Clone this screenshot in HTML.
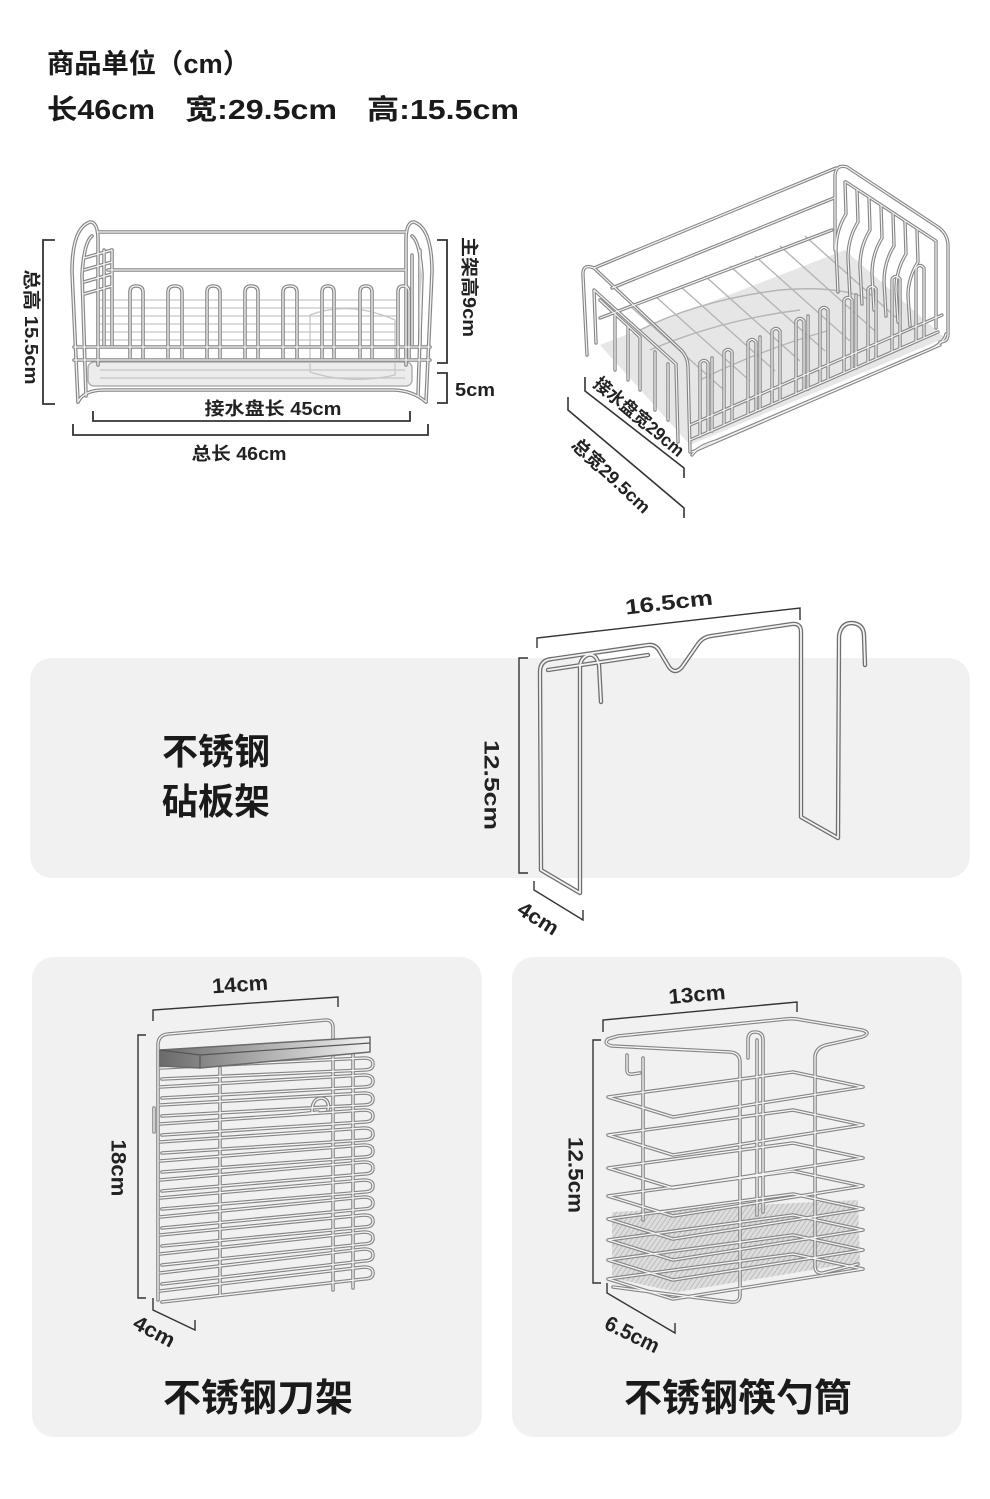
<!DOCTYPE html>
<html><head><meta charset="utf-8">
<style>
html,body{margin:0;padding:0;background:#fff;}
svg{display:block;}
text{font-family:"Liberation Sans","Noto Sans CJK SC",sans-serif;fill:#1a1a1a;}
.d{font-size:18px;fill:#222;font-weight:700;}
.d2{font-size:21px;fill:#222;font-weight:700;}
</style></head>
<body>
<svg width="990" height="1499" viewBox="0 0 990 1499" xmlns="http://www.w3.org/2000/svg">
<defs>
<linearGradient id="bar" x1="0" y1="0" x2="1" y2="0">
<stop offset="0" stop-color="#6a6a6a"/><stop offset="0.45" stop-color="#a8a8a8"/><stop offset="1" stop-color="#f2f2f2"/>
</linearGradient>
<pattern id="mesh" width="4" height="4" patternUnits="userSpaceOnUse" patternTransform="rotate(35)">
<rect width="4" height="4" fill="#d6d6d6"/><line x1="0" y1="0" x2="0" y2="4" stroke="#9a9a9a" stroke-width="1.4"/>
</pattern>

<g id="r1" fill="none">
<path d="M78,402 L72,272 Q72,228 90,222 Q98,222 98,240 L98,365"/>
<path d="M86,396 L82,275 Q84,242 92,236"/>
<path d="M426,402 L432,272 Q432,228 414,222 Q406,222 406,240 L406,365"/>
<path d="M418,396 L422,275 Q420,242 412,236"/>
<path d="M98,232 L406,232"/>
<path d="M108,270 L406,270"/>
<path d="M74,347 L430,347"/>
<path d="M74,360 L430,360"/>
<path d="M130,358 L130,292 Q130,286 136,286 Q143,286 143,292 L143,358"/>
<path d="M168,358 L168,292 Q168,286 175,286 Q182,286 182,292 L182,358"/>
<path d="M207,358 L207,292 Q207,286 213,286 Q220,286 220,292 L220,358"/>
<path d="M245,358 L245,292 Q245,286 251,286 Q258,286 258,292 L258,358"/>
<path d="M283,358 L283,292 Q283,286 290,286 Q297,286 297,292 L297,358"/>
<path d="M322,358 L322,292 Q322,286 328,286 Q334,286 334,292 L334,358"/>
<path d="M360,358 L360,292 Q360,286 366,286 Q372,286 372,292 L372,358"/>
<path d="M398,358 L398,292 Q398,286 403,286 Q409,286 409,292 L409,358"/>
<path d="M84,258 L112,250 M84,270 L112,262 M84,282 L112,274 M84,294 L112,286 M104,250 L104,345 M112,250 L112,345"/>
<path d="M412,255 L412,345 M420,250 L420,345"/>
<path d="M78,402 Q84,390 104,390 L392,390 Q412,390 426,402"/>
</g>

<g id="r2" fill="none">
<path d="M587,355 L583,276 Q582,263 594,268 L681,350 Q688,357 688,368 L690,452"/>
<path d="M596,343 L594,290 L676,364 L678,442"/>
<path d="M594,268 L836,168"/>
<path d="M612,288 L834,198"/>
<path d="M600,318 L832,230"/>
<path d="M835,250 L835,175 Q836,164 847,167 L938,227 Q948,234 948,246 L948,334 Q948,342 940,342"/>
<path d="M846,182 L936,241 L936,328"/>
<path d="M690,425 L942,315"/>
<path d="M690,440 L938,332"/>
<path d="M692,452 L940,345"/>
<path d="M700,436 L700,363 Q704,358 708,363 L708,432"/>
<path d="M712,431 L712,358"/>
<path d="M724,425 L724,352 Q728,347 732,352 L732,421"/>
<path d="M748,415 L748,342 Q752,337 756,342 L756,411"/>
<path d="M760,410 L760,337"/>
<path d="M772,404 L772,331 Q776,326 780,331 L780,400"/>
<path d="M796,394 L796,321 Q800,316 804,321 L804,390"/>
<path d="M808,389 L808,316"/>
<path d="M820,383 L820,310 Q824,305 828,310 L828,379"/>
<path d="M844,373 L844,300 Q848,295 852,300 L852,369"/>
<path d="M856,368 L856,295"/>
<path d="M868,362 L868,289 Q872,284 876,289 L876,358"/>
<path d="M892,352 L892,279 Q896,274 900,279 L900,348"/>
<path d="M916,341 L916,268 Q920,263 924,268 L924,337"/>
<path d="M845,182 L846,214 Q836,230 836,250 L838,292"/>
<path d="M857,190 L858,222 Q848,238 848,258 L850,298"/>
<path d="M869,198 L870,230 Q860,246 860,266 L862,304"/>
<path d="M881,206 L882,238 Q872,254 872,274 L874,310"/>
<path d="M893,214 L894,246 Q884,262 884,282 L886,316"/>
<path d="M905,222 L906,254 Q896,270 896,290 L898,322"/>
<path d="M917,230 L918,262 Q908,278 908,296 L910,326"/>
<path d="M600,300 L640,337 L640,390 M615,314 L615,370 M628,326 L628,380 M655,352 L655,410 M668,364 L668,420"/>
<path d="M692,455 Q698,446 716,441 L926,351 Q944,344 946,334"/>
</g>

<g id="r3" fill="none">
<path d="M601,702 L599,665 Q596,653 588,655 Q580,658 580,668 L580,893 L541,870 L540,672 Q540,660 552,659 L648,645 Q656,644 660,652 L669,667 Q675,675 682,667 L698,644 Q703,637 711,636 L792,624 Q801,623 801,632 L801,817 L838,838 L839,636 Q841,623 852,623 Q864,624 864,636 L865,665"/>
<path d="M548,670 L648,655"/>
</g>

<g id="r4" fill="none">
<path d="M158,1300 L158,1045 Q158,1035 168,1034 L326,1020 Q333,1020 333,1028 L333,1040"/>
<path d="M220,1068 L220,1295"/>
<path d="M333,1045 L333,1290"/>
<path d="M353,1042 L353,1288"/>
<path d="M160,1068 L364,1058 Q373,1058 373,1064 Q373,1070 364,1070 L162,1079"/>
<path d="M160,1087 L364,1075 Q373,1075 373,1081 Q373,1087 364,1087 L162,1098"/>
<path d="M160,1105 L364,1093 Q373,1093 373,1099 Q373,1105 364,1105 L162,1116"/>
<path d="M160,1124 L364,1110 Q373,1110 373,1116 Q373,1122 364,1122 L162,1135"/>
<path d="M160,1142 L364,1128 Q373,1128 373,1134 Q373,1140 364,1140 L162,1153"/>
<path d="M160,1161 L364,1145 Q373,1145 373,1151 Q373,1157 364,1157 L162,1172"/>
<path d="M160,1180 L364,1162 Q373,1162 373,1168 Q373,1174 364,1174 L162,1191"/>
<path d="M160,1198 L364,1180 Q373,1180 373,1186 Q373,1192 364,1192 L162,1209"/>
<path d="M160,1217 L364,1197 Q373,1197 373,1203 Q373,1209 364,1209 L162,1228"/>
<path d="M160,1235 L364,1215 Q373,1215 373,1221 Q373,1227 364,1227 L162,1246"/>
<path d="M160,1254 L364,1232 Q373,1232 373,1238 Q373,1244 364,1244 L162,1265"/>
<path d="M160,1273 L364,1249 Q373,1249 373,1255 Q373,1261 364,1261 L162,1284"/>
<path d="M160,1291 L364,1267 Q373,1267 373,1273 Q373,1279 364,1279 L162,1302"/>
<path d="M312,1112 Q312,1098 322,1098 Q330,1100 328,1110 M290,1115 L318,1112"/>
<path d="M154,1108 L154,1132"/>
</g>

<g id="r5" fill="none">
<path d="M643,1058 L643,1220"/>
<path d="M757,1040 L757,1215"/>
<path d="M763,1040 L763,1212"/>
<path d="M748,1058 L748,1040 Q748,1032 755,1032 Q763,1032 763,1040"/>
<path d="M627,1055 L627,1070 Q627,1075 633,1074 L640,1073"/>
<path d="M608,1097 L793,1072 L863,1087 L673,1117 Z"/>
<path d="M608,1135 L793,1110 L863,1125 L673,1155 Z"/>
<path d="M608,1168 L793,1143 L863,1158 L673,1188 Z"/>
<path d="M608,1196 L793,1171 L863,1186 L673,1216 Z"/>
<path d="M608,1219 L793,1194 L863,1209 L673,1239 Z"/>
<path d="M608,1240 L793,1215 L863,1230 L673,1260 Z"/>
<path d="M608,1260 L793,1235 L863,1250 L673,1280 Z"/>
<path d="M608,1279 L793,1254 L863,1269 L673,1299 Z"/>
<path d="M740,1295 L740,1062 Q740,1053 730,1052 L612,1046 Q603,1044 608,1039 L618,1036 L786,1019 Q795,1018 802,1020 L862,1030 Q872,1033 862,1037 L826,1045 Q815,1048 815,1058 L815,1266 Q815,1274 823,1273 L858,1264"/>
<path d="M740,1295 Q740,1303 731,1302 L613,1287"/>
</g>
</defs>

<rect width="990" height="1499" fill="#fff"/>

<text x="47" y="73" font-size="27" font-weight="700" textLength="203" lengthAdjust="spacingAndGlyphs">商品单位（cm）</text>
<text x="47" y="119" font-size="28" font-weight="700" textLength="108" lengthAdjust="spacingAndGlyphs">长46cm</text>
<text x="185" y="119" font-size="28" font-weight="700" textLength="152" lengthAdjust="spacingAndGlyphs">宽:29.5cm</text>
<text x="367" y="119" font-size="28" font-weight="700" textLength="152" lengthAdjust="spacingAndGlyphs">高:15.5cm</text>

<rect x="30" y="658" width="940" height="220" rx="22" fill="#f1f1f1"/>
<rect x="32" y="957" width="450" height="480" rx="22" fill="#f1f1f1"/>
<rect x="512" y="957" width="450" height="480" rx="22" fill="#f1f1f1"/>

<rect x="88" y="362" width="324" height="24" rx="6" fill="#ececec" stroke="#b0b0b0" stroke-width="1.5"/>
<g stroke="#c6c6c6" stroke-width="1.3" fill="none">
<path d="M100,300 L400,300 M100,308 L400,308 M100,316 L400,316 M100,324 L400,324 M100,332 L400,332 M100,340 L400,340"/>
<path d="M100,370 L405,370 M100,378 L405,378"/>
<path d="M310,315 Q350,300 395,320 L395,375 Q350,385 310,372 Z"/>
</g>
<use href="#r1" stroke="#858585" stroke-width="3.6" stroke-linecap="round" stroke-linejoin="round"/>
<use href="#r1" stroke="#f4f4f4" stroke-width="1.3" stroke-linecap="round" stroke-linejoin="round"/>

<g stroke="#333" stroke-width="1.8" fill="none">
<path d="M55,240 H43 V404 H55"/>
<path d="M437,240 H447 V363 H437"/>
<path d="M437,373 H447 V403 H437"/>
<path d="M93,411 V421 H410 V411"/>
<path d="M73,424 V435 H428 V424"/>
</g>
<text class="d" transform="translate(31,327) rotate(90)" text-anchor="middle" dominant-baseline="central" textLength="115" lengthAdjust="spacingAndGlyphs">总高 15.5cm</text>
<text class="d" transform="translate(469,287) rotate(90)" text-anchor="middle" dominant-baseline="central" textLength="100" lengthAdjust="spacingAndGlyphs">主架高9cm</text>
<text class="d" x="455" y="396" textLength="40" lengthAdjust="spacingAndGlyphs">5cm</text>
<text class="d" x="273" y="415" text-anchor="middle" textLength="137" lengthAdjust="spacingAndGlyphs">接水盘长 45cm</text>
<text class="d" x="239" y="460" text-anchor="middle" textLength="95" lengthAdjust="spacingAndGlyphs">总长 46cm</text>

<polygon points="600,345 690,445 945,338 845,250" fill="#e2e2e2" opacity="0.85"/>
<g stroke="#b5b5b5" stroke-width="1.4" fill="none">
<path d="M630,306 L725,391 M655,296 L750,381 M680,286 L775,371 M705,276 L800,361 M730,266 L825,351 M755,256 L850,341 M780,246 L875,331 M805,236 L900,321"/>
<path d="M640,330 Q700,300 780,290 Q840,285 870,300 M650,350 Q720,320 800,310 M700,380 Q760,350 830,330"/>
</g>
<use href="#r2" stroke="#858585" stroke-width="3.4" stroke-linecap="round" stroke-linejoin="round"/>
<use href="#r2" stroke="#f4f4f4" stroke-width="1.2" stroke-linecap="round" stroke-linejoin="round"/>
<g stroke="#333" stroke-width="1.6" fill="none">
<path d="M585,377 V391 L684,468 V478"/>
<path d="M568,397 V410 L684,508 V518"/>
</g>
<text class="d" transform="translate(639,417) rotate(40)" text-anchor="middle" dominant-baseline="central" textLength="112" lengthAdjust="spacingAndGlyphs">接水盘宽29cm</text>
<text class="d" transform="translate(611,476) rotate(43)" text-anchor="middle" dominant-baseline="central" textLength="100" lengthAdjust="spacingAndGlyphs">总宽29.5cm</text>

<text x="162" y="764" font-size="36" font-weight="700">不锈钢</text>
<text x="162" y="814" font-size="36" font-weight="700">砧板架</text>
<use href="#r3" stroke="#6f6f6f" stroke-width="4.4" stroke-linecap="round" stroke-linejoin="round"/>
<use href="#r3" stroke="#f4f4f4" stroke-width="1.8" stroke-linecap="round" stroke-linejoin="round"/>
<g stroke="#333" stroke-width="1.4" fill="none">
<path d="M537,648 V638 L800,608 V620"/>
<path d="M528,658 H519 V873 H528"/>
<path d="M534,881 V890 L583,920 V910"/>
</g>
<text class="d2" transform="translate(669,603) rotate(-6.5)" text-anchor="middle" dominant-baseline="central" textLength="88" lengthAdjust="spacingAndGlyphs">16.5cm</text>
<text class="d2" transform="translate(491,785) rotate(90)" text-anchor="middle" dominant-baseline="central" textLength="90" lengthAdjust="spacingAndGlyphs">12.5cm</text>
<text class="d2" transform="translate(538,919) rotate(32)" text-anchor="middle" dominant-baseline="central" textLength="44" lengthAdjust="spacingAndGlyphs">4cm</text>

<use href="#r4" stroke="#858585" stroke-width="3.6" stroke-linecap="round" stroke-linejoin="round"/>
<use href="#r4" stroke="#f6f6f6" stroke-width="1.3" stroke-linecap="round" stroke-linejoin="round"/>
<polygon points="160,1050 370,1037 370,1052 200,1068 160,1066" fill="url(#bar)" stroke="#6a6a6a" stroke-width="1.5" stroke-linejoin="round"/>
<path d="M160,1050 L200,1055 L370,1043" stroke="#555" stroke-width="1.2" fill="none"/>
<path d="M200,1055 L200,1068" stroke="#555" stroke-width="1.2"/>
<g stroke="#333" stroke-width="1.4" fill="none">
<path d="M153,1021 V1010 L338,997 V1007"/>
<path d="M146,1035 H138 V1298 H146"/>
<path d="M153,1298 V1310 L195,1330 V1320"/>
</g>
<text class="d2" transform="translate(240,985) rotate(-4)" text-anchor="middle" dominant-baseline="central" textLength="56" lengthAdjust="spacingAndGlyphs">14cm</text>
<text class="d2" transform="translate(118,1168) rotate(90)" text-anchor="middle" dominant-baseline="central" textLength="57" lengthAdjust="spacingAndGlyphs">18cm</text>
<text class="d2" transform="translate(154,1332) rotate(28)" text-anchor="middle" dominant-baseline="central" textLength="44" lengthAdjust="spacingAndGlyphs">4cm</text>
<text x="258" y="1411" font-size="38" font-weight="700" text-anchor="middle">不锈钢刀架</text>

<polygon points="612,1212 858,1200 860,1262 677,1292 612,1278" fill="url(#mesh)" opacity="0.75"/>
<use href="#r5" stroke="#858585" stroke-width="3.6" stroke-linecap="round" stroke-linejoin="round"/>
<use href="#r5" stroke="#f6f6f6" stroke-width="1.3" stroke-linecap="round" stroke-linejoin="round"/>
<g stroke="#333" stroke-width="1.4" fill="none">
<path d="M603,1032 V1020 L797,1002 V1012"/>
<path d="M601,1040 H593 V1283 H601"/>
<path d="M607,1283 V1293 L675,1333 V1323"/>
</g>
<text class="d2" transform="translate(697,995) rotate(-5)" text-anchor="middle" dominant-baseline="central" textLength="57" lengthAdjust="spacingAndGlyphs">13cm</text>
<text class="d2" transform="translate(575,1175) rotate(90)" text-anchor="middle" dominant-baseline="central" textLength="76" lengthAdjust="spacingAndGlyphs">12.5cm</text>
<text class="d2" transform="translate(632,1335) rotate(26)" text-anchor="middle" dominant-baseline="central" textLength="58" lengthAdjust="spacingAndGlyphs">6.5cm</text>
<text x="738" y="1411" font-size="38" font-weight="700" text-anchor="middle">不锈钢筷勺筒</text>
</svg>
</body></html>
